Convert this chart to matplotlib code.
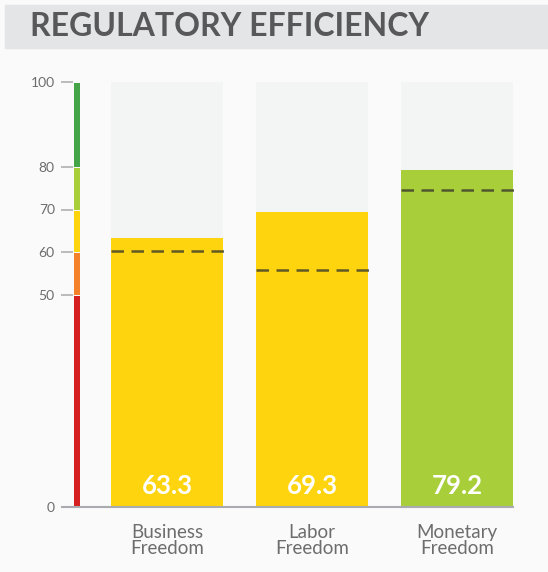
import matplotlib.pyplot as plt
from matplotlib.patches import Rectangle

categories = ["Business\nFreedom", "Labor\nFreedom", "Monetary\nFreedom"]
scores = [63.3, 69.3, 79.2]
averages = [60.3, 55.8, 74.6]
bar_colors = ["#fed40e", "#fed40e", "#a8ce3a"]
tick_values = [0, 50, 60, 70, 80, 100]

# colour scale strip: (start, end, colour)
bands = [(0, 50, "#d42020"), (50, 60, "#f5822a"), (60, 70, "#fed40e"),
         (70, 80, "#a8ce3a"), (80, 100, "#45a447")]

plt.rcParams['font.family'] = ['Lato', 'DejaVu Sans']

W, H = 548, 572
fig = plt.figure(figsize=(W / 100, H / 100), dpi=100, facecolor="#fafafa")

# title band
fig.patches.append(Rectangle((5 / W, 1 - 48 / H), 543 / W, 43 / H,
                             transform=fig.transFigure, color="#e4e5e7", zorder=0))
fig.text(30 / W, 1 - 27 / H, "REGULATORY EFFICIENCY", fontsize=23, fontweight="bold",
         color="#58585a", va="center", ha="left")

ax = fig.add_axes([61 / W, (H - 507) / H, 469 / W, 425 / H])
ax.set_facecolor("#fafafa")
ax.set_ylim(0, 100)
ax.set_xlim(-0.731, 2.503)

x = range(len(categories))
width = 112 / 145

ax.bar(x, [100] * len(categories), width=width, color="#f3f4f4", zorder=1)
ax.bar(x, scores, width=width, color=bar_colors, zorder=2)
for i, (s, a) in enumerate(zip(scores, averages)):
    ax.plot([i - width / 2, i + width / 2 + 0.01], [a, a], color="#3a3a2a", alpha=0.8,
            lw=1.8, dashes=(5, 3), zorder=3)
    ax.text(i, 4.9, f"{s:.1f}", color="white", fontsize=18.5, fontweight="bold",
            ha="center", va="center", zorder=4)

# colour strip
strip_x = -0.6207
for lo, hi, c in bands:
    ax.bar(strip_x, hi - lo - 0.3, bottom=lo, width=0.041, color=c, zorder=2)

# baseline
ax.plot([-0.724, 2 + width / 2], [0, 0], color="#a9abb0", lw=1.5, zorder=5, clip_on=False)

for sp in ax.spines.values():
    sp.set_visible(False)

ax.set_yticks(tick_values)
ax.tick_params(axis="y", direction="in", length=8.6, width=1.2, color="#b0b0b0",
               pad=4.5, labelsize=10, labelcolor="#6d6d6d")
ax.set_xticks(list(x))
ax.set_xticklabels(categories, fontsize=13.5, color="#6d6d6d", linespacing=0.95)
ax.tick_params(axis="x", length=0, pad=12)

fig.savefig("out.png", dpi=100, facecolor=fig.get_facecolor())
